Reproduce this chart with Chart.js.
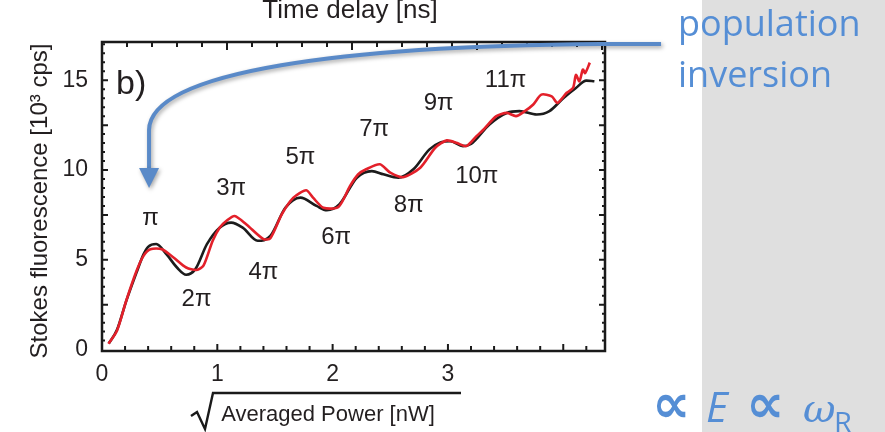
<!DOCTYPE html>
<html>
<head>
<meta charset="utf-8">
<script src="https://cdn.jsdelivr.net/npm/chart.js@4.4.0/dist/chart.umd.min.js"></script>
<style>
html, body { margin: 0; padding: 0; background: #fff; overflow: hidden; }
</style>
</head>
<body>
<canvas id="grafico" width="885" height="432"></canvas>
<script>
//DATOS
const xTeoria = [0.06, 0.13, 0.21, 0.30, 0.36, 0.40, 0.47, 0.56, 0.65, 0.73, 0.81, 0.91, 1.02, 1.12, 1.22, 1.35, 1.46, 1.59, 1.72, 1.86, 1.95, 2.06, 2.21, 2.34, 2.44, 2.57, 2.70, 2.84, 2.93, 3.02, 3.13, 3.20, 3.36, 3.51, 3.62, 3.77, 3.88, 4.00, 4.11, 4.20, 4.27];
const yTeoria = [0.35, 1.10, 2.70, 4.30, 5.30, 5.72, 5.88, 5.30, 4.57, 4.17, 4.48, 5.87, 6.79, 7.07, 6.79, 6.06, 6.33, 7.90, 8.46, 8.00, 7.76, 8.10, 9.57, 9.94, 9.76, 9.57, 10.04, 11.15, 11.52, 11.60, 11.33, 11.45, 12.54, 13.18, 13.28, 13.09, 13.28, 14.00, 14.57, 14.98, 14.94];

const xMedida = [0.055, 0.13, 0.21, 0.30, 0.36, 0.42, 0.52, 0.62, 0.73, 0.82, 0.88, 0.96, 1.02, 1.08, 1.15, 1.25, 1.40, 1.46, 1.56, 1.66, 1.77, 1.83, 1.92, 2.05, 2.15, 2.22, 2.29, 2.41, 2.50, 2.61, 2.76, 2.89, 2.99, 3.08, 3.16, 3.25, 3.30, 3.42, 3.51, 3.59, 3.66, 3.74, 3.81, 3.90, 3.95, 4.03, 4.085, 4.11, 4.14, 4.17, 4.19, 4.23];
const yMedida = [0.32, 1.05, 2.72, 4.39, 5.22, 5.59, 5.59, 5.13, 4.57, 4.43, 4.67, 6.06, 6.79, 7.17, 7.44, 6.98, 6.15, 6.20, 7.54, 8.46, 8.87, 8.46, 7.90, 7.94, 9.10, 9.75, 10.04, 10.32, 9.85, 9.60, 10.13, 11.24, 11.65, 11.50, 11.33, 11.90, 12.20, 13.00, 13.18, 13.00, 13.25, 13.65, 14.20, 14.10, 13.74, 14.30, 14.57, 15.30, 14.94, 15.60, 15.40, 15.98];

const etiquetasX = ['0', '1', '2', '3'];
const valoresX = [0, 1, 2, 3];
const etiquetasY = ['0', '5', '10', '15'];
const valoresY = [0, 5, 10, 15];
const etiquetasPi = ['π', '2π', '3π', '4π', '5π', '6π', '7π', '8π', '9π', '10π', '11π'];

//anclas de las etiquetas pi, en unidades de los ejes
const piX = [0.42, 0.82, 1.12, 1.40, 1.72, 2.03, 2.36, 2.66, 2.92, 3.25, 3.50];
const piY = [7.30, 2.80, 8.97, 4.29, 10.68, 6.25, 12.26, 8.05, 13.70, 9.67, 14.99];

//flecha azul (tambien en unidades de los ejes)
const flecha = { inicio: [4.848, 17.02], codo: [4.319, 17.02], c1: [2.151, 16.91], c2: [0.416, 15.57], fin: [0.408, 12.23], punta: [0.408, 9.0] };

const fuente = '"Liberation Sans", Arial, sans-serif';
const azul = '#558ed5';

function rango(desde, hasta, paso) {
  const valores = [];
  for (let v = desde; v <= hasta + 1e-9; v += paso) valores.push(Math.round(v * 1000) / 1000);
  return valores;
}

const puntos = (xs, ys) => xs.map((x, i) => ({ x, y: ys[i] }));

//MARCAS, TEXTOS Y FLECHA
const decoracion = {
  id: 'decoracion',
  beforeDraw(chart) {
    const { ctx } = chart;
    ctx.save();
    ctx.fillStyle = '#ffffff';
    ctx.fillRect(0, 0, chart.width, chart.height);
    ctx.fillStyle = '#dfdfdf';
    ctx.fillRect(702, 0, chart.width - 702, chart.height);
    ctx.restore();
  },
  afterDraw(chart) {
    const { ctx, chartArea: area, scales } = chart;
    const { x, y, x2 } = scales;
    const px = (vx, vy) => [x.getPixelForValue(vx), y.getPixelForValue(vy)];
    ctx.save();

    // marco
    ctx.strokeStyle = '#1a1a1a';
    ctx.lineWidth = 2.5;
    ctx.strokeRect(area.left, area.top, area.right - area.left, area.bottom - area.top);

    // marcas hacia dentro
    ctx.lineWidth = 2;
    ctx.beginPath();
    rango(0, 4.2, 0.2).forEach(v => {
      const p = x.getPixelForValue(v);
      const largo = Number.isInteger(v) ? 7 : 5;
      ctx.moveTo(p, area.bottom); ctx.lineTo(p, area.bottom - largo);
    });
    rango(1, 20, 1).forEach(v => {
      const p = x2.getPixelForValue(v);
      const largo = v % 5 === 0 ? 8 : 5;
      ctx.moveTo(p, area.top); ctx.lineTo(p, area.top + largo);
    });
    rango(0.5, 17, 0.5).forEach(v => {
      const p = y.getPixelForValue(v);
      const largo = v % 2.5 === 0 ? 6 : 3;
      ctx.moveTo(area.left, p); ctx.lineTo(area.left + largo, p);
      ctx.moveTo(area.right, p); ctx.lineTo(area.right - largo, p);
    });
    ctx.stroke();

    // numeros de los ejes
    ctx.fillStyle = '#231f20';
    ctx.font = '23px ' + fuente;
    ctx.textAlign = 'center';
    ctx.textBaseline = 'middle';
    valoresX.forEach((v, i) => ctx.fillText(etiquetasX[i], x.getPixelForValue(v), 375));
    ctx.textAlign = 'right';
    valoresY.forEach((v, i) => ctx.fillText(etiquetasY[i], 88, y.getPixelForValue(v)));

    // etiquetas pi
    ctx.textAlign = 'center';
    ctx.font = '24px ' + fuente;
    etiquetasPi.forEach((t, i) => {
      const [a, b] = px(piX[i], piY[i]);
      ctx.fillText(t, a, b);
    });

    // b)
    ctx.textAlign = 'left';
    ctx.textBaseline = 'alphabetic';
    ctx.font = '34px ' + fuente;
    ctx.fillText('b)', 116, 94);

    // titulos
    ctx.font = '26px ' + fuente;
    ctx.textAlign = 'center';
    ctx.fillText('Time delay [ns]', 350, 18);

    ctx.font = '22px ' + fuente;
    ctx.fillText('Averaged Power [nW]', 328, 421);
    ctx.lineWidth = 2.4;
    ctx.beginPath();
    ctx.moveTo(191, 416); ctx.lineTo(197, 412); ctx.lineTo(205, 429); ctx.lineTo(213, 393); ctx.lineTo(461, 393);
    ctx.stroke();

    ctx.save();
    ctx.translate(40, 201);
    ctx.rotate(-Math.PI / 2);
    ctx.textBaseline = 'middle';
    ctx.font = '24px ' + fuente;
    ctx.fillText('Stokes fluorescence [10³ cps]', 0, 0);
    ctx.restore();

    // flecha
    ctx.save();
    ctx.strokeStyle = '#5a8ac8';
    ctx.fillStyle = '#5a8ac8';
    ctx.lineWidth = 4;
    ctx.shadowColor = 'rgba(0,0,0,0.35)';
    ctx.shadowBlur = 4;
    ctx.shadowOffsetX = 1.5;
    ctx.shadowOffsetY = 2;
    const ini = px(...flecha.inicio), codo = px(...flecha.codo), c1 = px(...flecha.c1), c2 = px(...flecha.c2), fin = px(...flecha.fin), punta = px(...flecha.punta);
    ctx.beginPath();
    ctx.moveTo(ini[0], ini[1]);
    ctx.lineTo(codo[0], codo[1]);
    ctx.bezierCurveTo(c1[0], c1[1], c2[0], c2[1], fin[0], fin[1]);
    ctx.lineTo(punta[0], punta[1] - 18);
    ctx.stroke();
    ctx.beginPath();
    ctx.moveTo(punta[0] - 10, punta[1] - 20);
    ctx.lineTo(punta[0] + 10, punta[1] - 20);
    ctx.lineTo(punta[0], punta[1]);
    ctx.closePath();
    ctx.fill();
    ctx.restore();

    // textos de la diapositiva
    ctx.fillStyle = azul;
    ctx.textAlign = 'left';
    ctx.textBaseline = 'alphabetic';
    ctx.font = '36px "Open Sans", sans-serif';
    ctx.fillText('population', 678, 36);
    ctx.fillText('inversion', 678, 87);

    ctx.font = 'bold 54px "DejaVu Sans", sans-serif';
    ctx.fillText('∝', 652, 422);
    ctx.fillText('∝', 746, 422);
    ctx.font = 'italic 42px "Open Sans", sans-serif';
    ctx.fillText('E', 706, 422);
    ctx.font = 'italic 40px "DejaVu Serif", serif';
    ctx.fillText('ω', 803, 422);
    ctx.font = '29px "Open Sans", sans-serif';
    ctx.fillText('R', 834, 433);

    ctx.restore();
  }
};

//GRAFICA
new Chart(document.getElementById('grafico').getContext('2d'), {
  type: 'line',
  data: {
    datasets: [
      {
        label: 'medida',
        data: puntos(xMedida, yMedida),
        borderColor: '#e3202a',
        borderWidth: 2.6,
        pointRadius: 0,
        tension: 0.25
      },
      {
        label: 'teoria',
        data: puntos(xTeoria, yTeoria),
        borderColor: '#1c1c1c',
        borderWidth: 2.6,
        pointRadius: 0,
        cubicInterpolationMode: 'monotone'
      }
    ]
  },
  options: {
    responsive: false,
    animation: false,
    devicePixelRatio: 1,
    layout: { padding: { left: 102, top: 42, right: 280, bottom: 81 } },
    plugins: { legend: { display: false }, tooltip: { enabled: false } },
    scales: {
      x: { type: 'linear', min: 0, max: 4.362, display: false },
      x2: { type: 'linear', position: 'top', min: 0, max: 20.12, display: false },
      y: { type: 'linear', min: -0.08, max: 17.13, display: false }
    }
  },
  plugins: [decoracion]
});
</script>
</body>
</html>
